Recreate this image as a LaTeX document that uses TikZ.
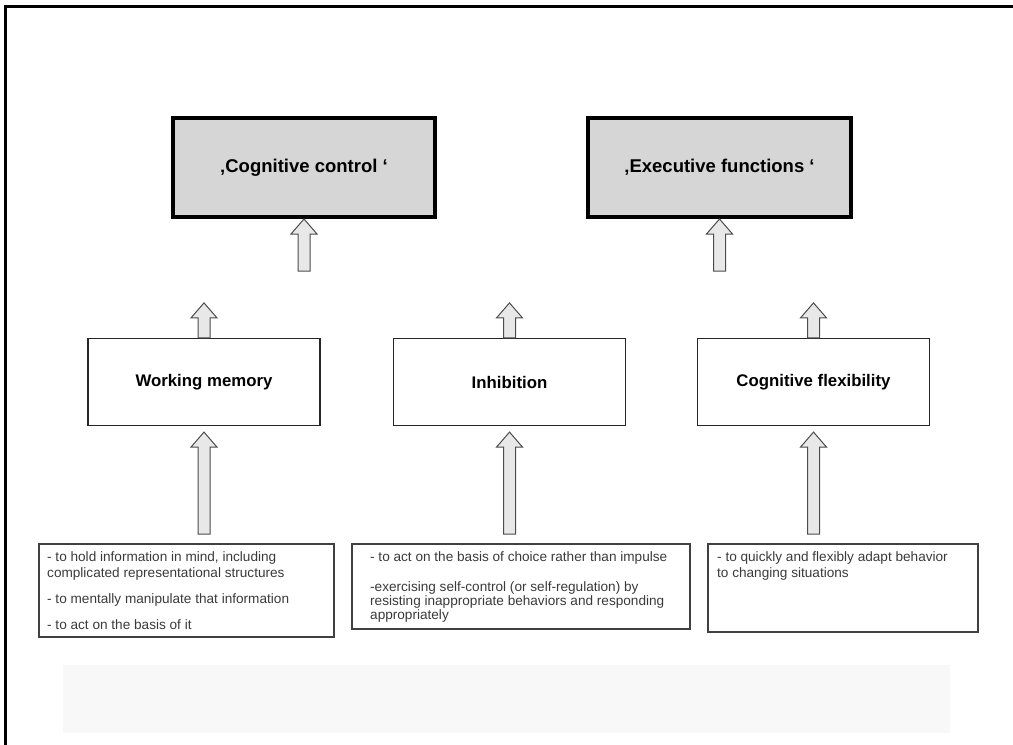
\documentclass[tikz,border=0pt]{standalone}
\usepackage{fontspec}
\setmainfont{Liberation Sans}
\usetikzlibrary{calc}

\definecolor{boxgray}{HTML}{D6D6D6}
\definecolor{arrowgray}{HTML}{E8E8E8}
\definecolor{txtgray}{HTML}{3A3A3A}
\definecolor{bandgray}{HTML}{F8F8F8}

\newcommand{\bigarrow}[2]{\draw[arrowbody] let \p1=(#1), \p2=(#2) in
  (\x1-6pt,\y1) -- (\x1-6pt,\y2-15pt) -- (\x1-13pt,\y2-15pt) -- (\x1,\y2)
  -- (\x1+13pt,\y2-15pt) -- (\x1+6pt,\y2-15pt) -- (\x1+6pt,\y1) -- cycle;}

\begin{document}
\begin{tikzpicture}[x=1pt, y=-1pt,
    titlebox/.style = {draw, line width=4pt, fill=boxgray, minimum width=262pt, minimum height=99pt, font=\fontsize{18.5}{22}\selectfont\bfseries},
    midbox/.style = {draw=black!85, line width=1.2pt, fill=white, minimum width=232pt, minimum height=87pt, font=\fontsize{16.8}{20}\selectfont\bfseries},
    descbox/.style = {draw=black!75, line width=1.5pt, anchor=north west, inner sep=0pt},
    desctext/.style = {anchor=north west, inner sep=0pt, align=left, text=txtgray, font=\fontsize{13.6}{16}\selectfont},
    arrowbody/.style = {draw=black!70, line width=1pt, fill=arrowgray}]
  \useasboundingbox (0,0) rectangle (1013,745);
  \draw[line width=3pt] (5,745) -- (5,6) -- (1013,6);
  \fill[bandgray] (63,665) rectangle (950,733);

  \node[titlebox] (cc) at (304,167.5) {‚Cognitive control ‘};
  \node[titlebox, minimum width=263pt, node distance=415.5pt] (ef) [right of=cc] {‚Executive functions ‘};

  \node[midbox] (wm) at (204,382) {Working memory};
  \node[midbox, node distance=305.5pt] (inh) [right of=wm] {Inhibition};
  \node[midbox, node distance=304pt] (cf) [right of=inh] {Cognitive flexibility};

  \node[descbox, minimum width=295pt, minimum height=93pt] (wmd) at (38,543) {};
  \node[descbox, minimum width=338pt, minimum height=85pt] (inhd) at (351,543) {};
  \node[descbox, minimum width=270pt, minimum height=88pt] (cfd) at (707,543) {};

  \node[desctext] (wmt) at (47,551) {- to hold information in mind, including\\complicated representational structures\\[10pt]- to mentally manipulate that information\\[10pt]- to act on the basis of it};
  \node[desctext, font=\fontsize{13.6}{14}\selectfont] (inht) at (370,551) {- to act on the basis of choice rather than impulse\\[16pt]-exercising self-control (or self-regulation) by\\resisting inappropriate behaviors and responding\\appropriately};
  \node[desctext] (cft) at (717,551) {- to quickly and flexibly adapt behavior\\to changing situations};

  \coordinate (ccfoot) at ($(cc.south)+(0,52)$);
  \coordinate (effoot) at ($(ef.south)+(0,52)$);
  \bigarrow{ccfoot}{cc.south}
  \bigarrow{effoot}{ef.south}

  \coordinate (wmtop) at ($(wm.north)+(0,-35)$);
  \coordinate (inhtop) at ($(inh.north)+(0,-35)$);
  \coordinate (cftop) at ($(cf.north)+(0,-35)$);
  \bigarrow{wm.north}{wmtop}
  \bigarrow{inh.north}{inhtop}
  \bigarrow{cf.north}{cftop}

  \coordinate (wmfoot) at ($(wm.south |- wmd.north)+(0,-9)$);
  \coordinate (inhfoot) at ($(inh.south |- inhd.north)+(0,-9)$);
  \coordinate (cffoot) at ($(cf.south |- cfd.north)+(0,-9)$);
  \coordinate (wmtip) at ($(wm.south)+(0,6)$);
  \coordinate (inhtip) at ($(inh.south)+(0,6)$);
  \coordinate (cftip) at ($(cf.south)+(0,6)$);
  \bigarrow{wmfoot}{wmtip}
  \bigarrow{inhfoot}{inhtip}
  \bigarrow{cffoot}{cftip}
\end{tikzpicture}
\end{document}
